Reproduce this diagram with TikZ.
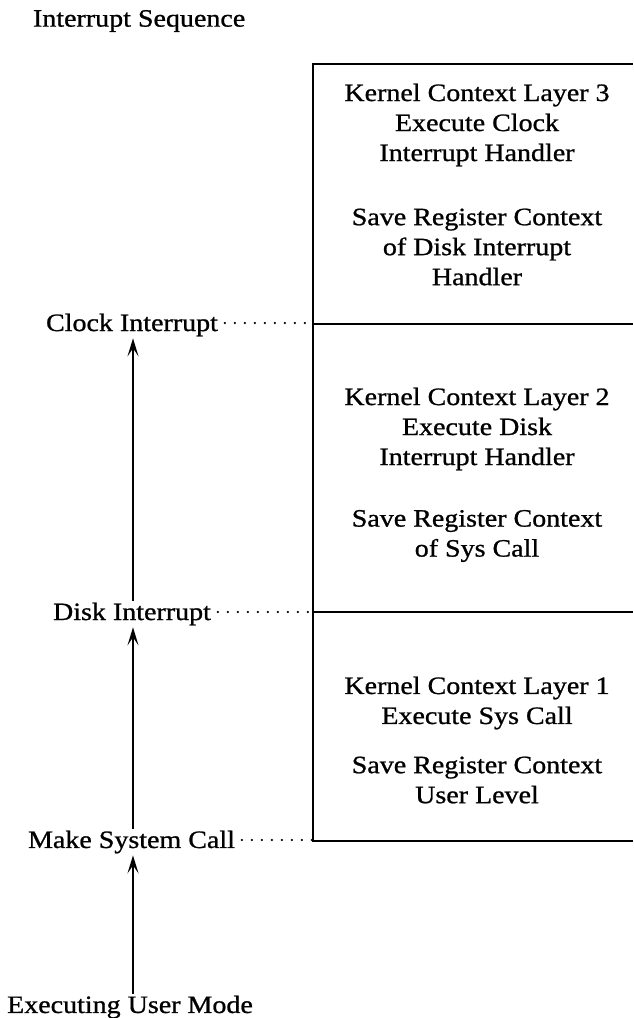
\documentclass[tikz,border=0pt]{standalone}
\usepackage{fontspec}
\setmainfont{Liberation Serif}[FakeStretch=1.12,FakeBold=0.9]
\usetikzlibrary{arrows.meta}
\tikzset{
  txt/.style={font=\fontsize{25}{30}\selectfont, inner sep=2pt, outer sep=0pt},
  blocktxt/.style={txt, align=center},
  boxline/.style={line width=2.4pt},
  flow/.style={line width=2pt, -{Stealth[length=18pt,width=11pt,inset=8pt]}},
  dotline/.style={line width=2.4pt, line cap=round, dash pattern=on 0pt off 10pt},
}
\begin{document}
\begin{tikzpicture}[x=1pt,y=-1pt]
\useasboundingbox (0,0) rectangle (633,1018);
\node[txt, anchor=west] (title) at (31,21) {Interrupt Sequence};
% box
\coordinate (b3) at (313,64);
\coordinate (d2) at (313,324);
\coordinate (d1) at (313,612);
\coordinate (b0) at (313,841);
\coordinate (edge) at (633,0);
\draw[boxline] (b3 -| edge) -- (b3) -- (b0) -- (b0 -| edge);
\draw[boxline] (d2) -- (d2 -| edge);
\draw[boxline] (d1) -- (d1 -| edge);
% box texts
\node[blocktxt] (k3) at (477,125) {Kernel Context Layer 3\\Execute Clock\\Interrupt Handler};
\node[blocktxt] (s3) at (477,247) {Save Register Context\\of Disk Interrupt\\Handler};
\node[blocktxt] (k2) at (477,429) {Kernel Context Layer 2\\Execute Disk\\Interrupt Handler};
\node[blocktxt] (s2) at (477,536) {Save Register Context\\of Sys Call};
\node[blocktxt] (k1) at (477,703) {Kernel Context Layer 1\\Execute Sys Call};
\node[blocktxt] (s1) at (477,780) {Save Register Context\\User Level};
% left labels
\node[txt] (clk) at (132,325) {Clock Interrupt};
\node[txt] (dsk) at (132,614) {Disk Interrupt};
\node[txt] (msc) at (131.5,842) {Make System Call};
\node[txt] (exe) at (130,1007) {Executing User Mode};
\coordinate (spine) at (133,0);
\draw[flow] (exe.north -| spine) -- (msc.south -| spine);
\draw[flow] (msc.north -| spine) -- (dsk.south -| spine);
\draw[flow] (dsk.north -| spine) -- (clk.south -| spine);
% dotted leaders
\draw[dotline] ([xshift=5pt,yshift=2pt]clk.east) -- ([yshift=2pt]clk.east -| d2);
\draw[dotline] ([xshift=5pt,yshift=2pt]dsk.east) -- ([yshift=2pt]dsk.east -| d1);
\draw[dotline] ([xshift=5pt,yshift=2pt]msc.east) -- ([yshift=2pt]msc.east -| b0);
\end{tikzpicture}
\end{document}
